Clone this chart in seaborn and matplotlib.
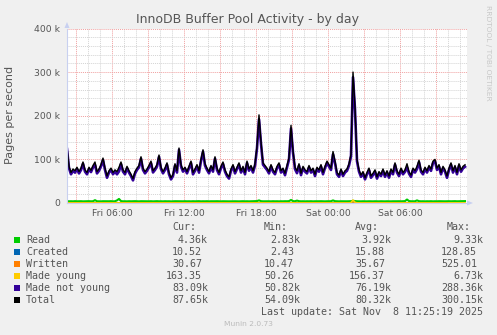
import numpy as np
import pandas as pd
import matplotlib
matplotlib.use("Agg")
import matplotlib.pyplot as plt
from matplotlib.patches import Rectangle, Polygon
import seaborn as sns

# ---------------- data (values in thousands of pages / second) ----------------
# samples every 10 minutes, starting Fri 02:15 (hours counted from Fri 00:00)
start_hour = 2.25
step_hours = 10 / 60

total = [
    128, 84, 70, 78, 74, 82, 72, 80, 94, 76, 70, 82, 75, 86, 94, 72, 78, 88, 103, 80,
    62, 74, 80, 70, 76, 72, 82, 94, 76, 70, 84, 74, 66, 56, 72, 80, 86, 106, 80, 72,
    78, 86, 96, 74, 80, 88, 110, 82, 72, 80, 92, 70, 58, 66, 90, 74, 126, 88, 76, 82,
    72, 84, 96, 70, 78, 88, 74, 100, 122, 90, 80, 72, 86, 76, 106, 80, 70, 84, 94, 76,
    66, 60, 78, 88, 72, 82, 92, 74, 84, 70, 96, 78, 86, 74, 90, 130, 202, 140, 92, 86,
    80, 72, 88, 76, 70, 84, 92, 74, 80, 68, 86, 104, 178, 120, 82, 74, 90, 68, 84, 76,
    72, 86, 74, 80, 66, 82, 76, 88, 70, 84, 96, np.nan, 80, 118, 96, 70, 64, 78, 66, 74,
    78, 90, 112, 300.15, 220, 100, 76, 64, 72, 58, 70, 80, 62, 68, 76, 60, 72, 66, 78, 64,
    74, 62, 78, 70, 92, 74, 66, 80, 70, 76, 90, 72, 64, 80, 74, 84, 98, 76, 70, 82,
    74, 86, 78, 96, 100, 80, 88, 70, 84, 76, 62, 80, 92, 74, 86, 70, 90, 76, 84, 87.65,
]

made_not_young = [
    123.7, 79.9, 65.8, 74.0, 69.6, 77.9, 67.8, 75.7, 90.0, 71.9, 65.8, 77.6, 70.9, 81.7, 87.3, 67.8, 73.9, 84.0, 98.7, 75.8,
    57.9, 69.8, 75.6, 66.0, 71.8, 65.8, 72.5, 89.4, 71.9, 65.8, 80.0, 69.7, 61.9, 51.8, 67.6, 75.9, 82.0, 101.7, 75.8, 67.9,
    73.8, 81.9, 91.7, 70.0, 75.8, 83.6, 105.9, 77.8, 68.0, 75.7, 87.9, 65.8, 54.1, 61.9, 85.7, 69.8, 121.9, 83.8, 71.9, 77.7,
    67.9, 79.8, 92.0, 65.7, 73.9, 83.8, 69.6, 96.0, 117.8, 85.9, 75.7, 68.0, 81.8, 71.9, 101.8, 75.7, 65.9, 80.0, 89.9, 71.9,
    61.8, 56.0, 73.9, 83.7, 67.8, 77.9, 88.0, 69.8, 79.7, 65.9, 91.8, 74.0, 81.9, 69.8, 85.7, 125.4, 192.0, 135.6, 87.9, 81.8,
    75.9, 67.8, 84.0, 71.7, 65.9, 79.8, 88.0, 69.8, 75.9, 63.7, 81.8, 99.5, 170.8, 115.4, 77.8, 68.3, 85.6, 63.9, 79.8, 72.0,
    67.8, 81.9, 69.7, 76.0, 61.8, 77.9, 71.8, 83.7, 65.9, 80.0, 91.8, np.nan, 75.7, 111.8, 91.6, 65.9, 60.0, 73.8, 61.9, 69.8,
    73.9, 85.8, 107.0, 288.36, 214.0, 95.8, 71.9, 60.0, 67.9, 54.1, 66.0, 75.8, 57.9, 64.0, 71.8, 55.9, 68.0, 61.8, 73.9, 60.0,
    69.8, 57.9, 74.0, 65.8, 87.9, 69.8, 61.7, 75.9, 65.8, 71.5, 81.8, 67.4, 59.8, 75.9, 69.8, 77.8, 93.6, 71.9, 65.8, 78.0,
    69.8, 81.9, 73.7, 92.0, 95.8, 75.9, 83.7, 65.8, 80.0, 71.9, 57.8, 75.7, 87.9, 69.8, 81.6, 65.9, 85.8, 71.7, 79.6, 83.09,
]

read = [
    4.1, 3.9, 4.0, 3.8, 4.2, 3.9, 4.0, 4.1, 3.8, 3.9, 4.0, 4.2, 3.9, 4.1, 6.5, 4.0, 3.9, 3.8, 4.1, 4.0,
    3.9, 4.0, 4.2, 3.8, 4.0, 6.0, 9.33, 4.4, 3.9, 4.0, 3.8, 4.1, 3.9, 4.0, 4.2, 3.9, 3.8, 4.1, 4.0, 3.9,
    4.0, 3.9, 4.1, 3.8, 4.0, 4.2, 3.9, 4.0, 3.8, 4.1, 3.9, 4.0, 3.7, 3.9, 4.1, 4.0, 3.8, 4.0, 3.9, 4.1,
    3.9, 4.0, 3.8, 4.1, 3.9, 4.0, 4.2, 3.8, 4.0, 3.9, 4.1, 3.8, 4.0, 3.9, 4.0, 4.1, 3.9, 3.8, 4.0, 3.9,
    4.0, 3.8, 3.9, 4.1, 4.0, 3.9, 3.8, 4.0, 4.1, 3.9, 4.0, 3.8, 3.9, 4.0, 4.1, 4.4, 6.0, 4.2, 3.9, 4.0,
    3.9, 4.0, 3.8, 4.1, 3.9, 4.0, 3.8, 4.0, 3.9, 4.1, 4.0, 4.3, 7.0, 4.4, 4.0, 5.5, 4.2, 3.9, 4.0, 3.8,
    4.0, 3.9, 4.1, 3.8, 4.0, 3.9, 4.0, 4.1, 3.9, 3.8, 4.0, np.nan, 4.1, 6.0, 4.2, 3.9, 3.8, 4.0, 3.9, 4.0,
    3.9, 4.0, 4.2, 5.0, 4.5, 4.0, 3.9, 3.8, 4.0, 3.9, 3.8, 4.0, 3.9, 3.8, 4.0, 3.9, 3.8, 4.0, 3.9, 3.8,
    4.0, 3.9, 3.8, 4.0, 3.9, 4.0, 4.1, 3.9, 4.0, 4.3, 8.0, 4.4, 4.0, 3.9, 4.0, 6.0, 4.2, 3.9, 4.0, 3.8,
    4.0, 3.9, 4.1, 3.8, 4.0, 3.9, 4.1, 4.0, 3.8, 3.9, 4.0, 4.1, 3.9, 4.0, 4.2, 3.9, 4.0, 4.1, 4.2, 4.36,
]

made_young = [
    0.15, 0.16, 0.14, 0.15, 0.17, 0.15, 0.14, 0.16, 0.15, 0.15, 0.14, 0.16, 0.15, 0.17, 0.2, 0.15, 0.14, 0.15, 0.16, 0.15,
    0.15, 0.14, 0.16, 0.15, 0.15, 0.2, 0.25, 0.16, 0.15, 0.14, 0.15, 0.16, 0.15, 0.14, 0.15, 0.16, 0.15, 0.17, 0.15, 0.14,
    0.15, 0.16, 0.15, 0.14, 0.15, 0.16, 0.17, 0.15, 0.14, 0.15, 0.16, 0.15, 0.14, 0.15, 0.16, 0.15, 0.18, 0.15, 0.14, 0.15,
    0.16, 0.15, 0.14, 0.15, 0.16, 0.15, 0.14, 0.16, 0.18, 0.15, 0.14, 0.15, 0.16, 0.15, 0.17, 0.15, 0.14, 0.15, 0.16, 0.15,
    0.14, 0.15, 0.16, 0.15, 0.14, 0.15, 0.16, 0.15, 0.14, 0.15, 0.16, 0.15, 0.14, 0.15, 0.16, 0.3, 0.6, 0.25, 0.15, 0.14,
    0.15, 0.16, 0.15, 0.14, 0.15, 0.16, 0.15, 0.14, 0.15, 0.16, 0.15, 0.2, 0.5, 0.2, 0.15, 0.16, 0.15, 0.14, 0.15, 0.16,
    0.15, 0.14, 0.15, 0.16, 0.15, 0.14, 0.15, 0.16, 0.15, 0.14, 0.16, np.nan, 0.15, 0.2, 0.16, 0.15, 0.14, 0.15, 0.16, 0.15,
    0.15, 0.16, 0.8, 6.73, 1.5, 0.2, 0.15, 0.14, 0.15, 0.16, 0.15, 0.14, 0.15, 0.16, 0.15, 0.14, 0.15, 0.16, 0.15, 0.14,
    0.15, 0.16, 0.15, 0.14, 0.15, 0.16, 0.15, 0.14, 0.15, 0.16, 0.2, 0.15, 0.14, 0.15, 0.16, 0.17, 0.15, 0.14, 0.15, 0.16,
    0.15, 0.14, 0.15, 0.16, 0.15, 0.14, 0.15, 0.16, 0.15, 0.14, 0.15, 0.16, 0.15, 0.14, 0.15, 0.16, 0.15, 0.14, 0.15, 0.16335,
]

# coarse series (every 100 minutes), nearly zero on this scale
coarse_step_hours = 100 / 60
created = [0.012, 0.018, 0.015, 0.020, 0.014, 0.016, 0.013, 0.019, 0.017, 0.015,
           0.022, 0.016, 0.014, 0.018, 0.016, 0.013, 0.017, 0.015, 0.014, 0.01052]
written = [0.034, 0.038, 0.036, 0.041, 0.033, 0.035, 0.032, 0.039, 0.037, 0.036,
           0.045, 0.034, 0.031, 0.038, 0.036, 0.033, 0.037, 0.035, 0.034, 0.03067]

series_names = ["Read", "Created", "Written", "Made young", "Made not young", "Total"]
series_colors = ["#00CC00", "#0066B3", "#FF8000", "#FFCC00", "#330099", "#000000"]
legend_cur = ["4.36k", "10.52", "30.67", "163.35", "83.09k", "87.65k"]
legend_min = ["2.83k", "2.43", "10.47", "50.26", "50.82k", "54.09k"]
legend_avg = ["3.92k", "15.88", "35.67", "156.37", "76.19k", "80.32k"]
legend_max = ["9.33k", "128.85", "525.01", "6.73k", "288.36k", "300.15k"]

x_tick_hours = [6, 12, 18, 24, 30]
x_tick_labels = ["Fri 06:00", "Fri 12:00", "Fri 18:00", "Sat 00:00", "Sat 06:00"]
y_tick_values = [0, 100, 200, 300, 400]
y_tick_labels = ["0", "100 k", "200 k", "300 k", "400 k"]

title = "InnoDB Buffer Pool Activity - by day"
ylabel = "Pages per second"
last_update = "Last update: Sat Nov  8 11:25:19 2025"

# ---------------- build frames ----------------
n = len(total)
t_fine = start_hour + np.arange(n) * step_hours
t_coarse = start_hour + np.arange(len(created)) * coarse_step_hours

frames = []
for name, vals, tt in [("Read", read, t_fine), ("Created", created, t_coarse),
                       ("Written", written, t_coarse), ("Made young", made_young, t_fine),
                       ("Made not young", made_not_young, t_fine), ("Total", total, t_fine)]:
    frames.append(pd.DataFrame({"hour": tt, "value": vals, "series": name}))

# ---------------- figure ----------------
W, H = 497, 335
BG = "#F0F0F0"
fig = plt.figure(figsize=(W / 100, H / 100), dpi=100, facecolor=BG)

def fx(px):
    return px / W

def fy(py):
    return 1 - py / H

ax_left, ax_right, ax_top, ax_bottom = 67, 467, 28.5, 203
ax = fig.add_axes([fx(ax_left), fy(ax_bottom), (ax_right - ax_left) / W, (ax_bottom - ax_top) / H])
ax.set_facecolor("white")

x_end = start_hour + (ax_right - ax_left) / 12.0
ax.set_xlim(start_hour, x_end)
ax.set_ylim(0, 400)

# grid
ax.set_xticks(np.arange(3, 36, 3))
ax.set_xticks(np.arange(3, 36, 1), minor=True)
ax.set_yticks(np.arange(0, 401, 100))
ax.set_yticks(np.arange(0, 401, 20), minor=True)
ax.grid(which="minor", color="#d4d4d4", linestyle=(0, (1, 1)), linewidth=0.7, zorder=0)
ax.grid(which="major", color="#f0a0a0", linestyle=(0, (1, 1)), linewidth=0.7, zorder=0.5)
ax.set_axisbelow(True)

lw_map = {"Read": 1.5, "Created": 1.0, "Written": 1.0, "Made young": 1.2,
          "Made not young": 1.9, "Total": 1.0}
for df, color in zip(frames, series_colors):
    name = df["series"].iloc[0]
    sns.lineplot(data=df, x="hour", y="value", ax=ax, color=color,
                 linewidth=lw_map[name], estimator=None, sort=False, legend=False)

ax.set_xlabel("")
ax.set_ylabel("")
for s in ["top", "right"]:
    ax.spines[s].set_visible(False)
axis_color = "#c8d0f0"
ax.spines["left"].set_color(axis_color)
ax.spines["bottom"].set_color(axis_color)
ax.spines["left"].set_linewidth(0.8)
ax.spines["bottom"].set_linewidth(0.8)

# tick labels: only major ticks at 6h get text
major_x = np.arange(3, 36, 3)
ax.set_xticklabels([x_tick_labels[x_tick_hours.index(h)] if h in x_tick_hours else "" for h in major_x])
ax.set_yticklabels(y_tick_labels)
ax.tick_params(which="both", length=0)
ax.tick_params(axis="x", which="major", labelsize=6.7, labelcolor="#555555", pad=4)
ax.tick_params(axis="y", which="major", labelsize=6.7, labelcolor="#555555", pad=5)
for lab in ax.get_xticklabels() + ax.get_yticklabels():
    lab.set_family("DejaVu Sans")

# arrows at axis ends
fig.add_artist(Polygon([[fx(64.5), fy(28)], [fx(69.5), fy(28)], [fx(67), fy(22)]],
                       closed=True, transform=fig.transFigure, color=axis_color, lw=0))
fig.add_artist(Polygon([[fx(467), fy(200.5)], [fx(467), fy(205.5)], [fx(473), fy(203)]],
                       closed=True, transform=fig.transFigure, color=axis_color, lw=0))

# title & labels
fig.text(fx(248), fy(20), title, ha="center", va="center", fontsize=9, color="#555555",
         family="DejaVu Sans")
fig.text(fx(10.5), fy(115), ylabel, ha="center", va="center", rotation=90, fontsize=8,
         color="#555555", family="DejaVu Sans")
fig.text(fx(488), fy(5), "RRDTOOL / TOBI OETIKER", ha="center", va="top", rotation=-90,
         fontsize=5.4, color="#c8c8c8", family="DejaVu Sans")

# legend
mono = dict(family="DejaVu Sans Mono", fontsize=7.2, color="#555555", va="center")
header_y = 227.5
for hdr, xp in zip(["Cur:", "Min:", "Avg:", "Max:"], [172, 264, 355, 447]):
    fig.text(fx(xp), fy(header_y), hdr, ha="left", **mono)

col_ends = [208, 300, 391, 483]
for i, (name, color) in enumerate(zip(series_names, series_colors)):
    yc = 240 + 12 * i
    fig.add_artist(Rectangle((fx(14), fy(yc + 3)), 6 / W, 6 / H, transform=fig.transFigure,
                             facecolor=color, edgecolor="none"))
    fig.text(fx(26), fy(yc), name, ha="left", **mono)
    for vals, xe in zip([legend_cur, legend_min, legend_avg, legend_max], col_ends):
        v = vals[i]
        xr = xe if v.endswith("k") else xe - 6
        fig.text(fx(xr), fy(yc), v, ha="right", **mono)

fig.text(fx(483), fy(312), last_update, ha="right", **mono)
fig.text(fx(248), fy(324), "Munin 2.0.73", ha="center", va="center", fontsize=5.4,
         color="#bbbbbb", family="DejaVu Sans")

fig.savefig("out.png", dpi=100, facecolor=BG)
